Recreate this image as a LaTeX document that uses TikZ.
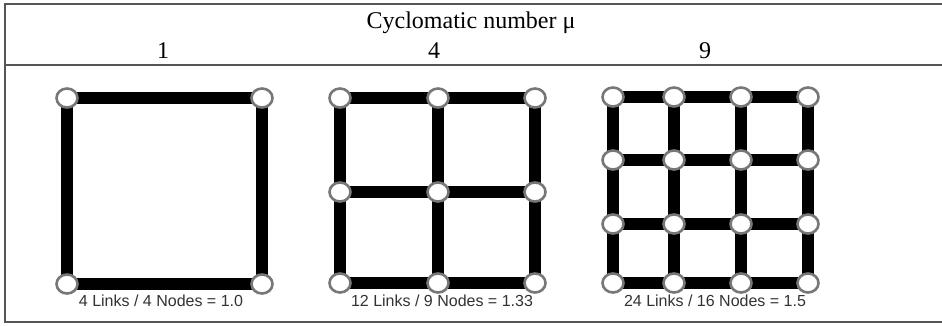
\documentclass[tikz,border=0pt]{standalone}
\usepackage{fontspec}
\setmainfont{Liberation Serif}
\newfontfamily\labelfont{Liberation Sans}
\usetikzlibrary{backgrounds,shapes.geometric}
\definecolor{rulegray}{HTML}{555555}
\definecolor{ringgray}{HTML}{777777}
\definecolor{labgray}{HTML}{333333}
\tikzset{
  vtx/.style={ellipse, draw=ringgray, line width=2.6pt, fill=white, minimum width=21pt, minimum height=19pt, inner sep=0pt},
  link/.style={line width=11.5pt, black},
  tabrule/.style={rulegray, line width=1.4pt},
  headtext/.style={font=\fontsize{24}{28}\selectfont, text=black, inner sep=0pt},
  linklabel/.style={font=\labelfont\fontsize{16}{18}\selectfont, text=labgray, inner sep=0pt}
}
\begin{document}
\begin{tikzpicture}[x=1pt,y=-1pt]
\useasboundingbox (0,0) rectangle (942,325);
% table frame
\draw[tabrule] (4,4) -- (942,4);
\draw[tabrule] (5,4) -- (5,322);
\draw[tabrule] (4,65) -- (942,65);
\draw[tabrule] (4,322) -- (942,322);
% headings
\node[headtext] (title) at (471,23) {Cyclomatic number μ};
\node[headtext] (m1) at (163,51) {1};
\node[headtext] (m4) at (434,51) {4};
\node[headtext] (m9) at (705,51) {9};
% grid 1
\foreach \i/\x in {1/67,2/262}
  \foreach \j/\y in {1/98,2/284}
    \node[vtx] (a\i\j) at (\x,\y) {};
\begin{scope}[on background layer]
\fill[white] (0,0) rectangle (942,325);
\draw[link] (a11.center) -- (a21.center) -- (a22.center) -- (a12.center) -- cycle;
\end{scope}
\node[linklabel] (c1) at (161,301) {4 Links / 4 Nodes = 1.0};
% grid 2
\foreach \i/\x in {1/340,2/438,3/535}
  \foreach \j/\y in {1/98,2/192,3/283}
    \node[vtx] (b\i\j) at (\x,\y) {};
\begin{scope}[on background layer]
\foreach \i in {1,2,3}{
  \draw[link] (b\i1.center) -- (b\i3.center);
  \draw[link] (b1\i.center) -- (b3\i.center);
}
\end{scope}
\node[linklabel] (c2) at (442,301) {12 Links / 9 Nodes = 1.33};
% grid 3
\foreach \i/\x in {1/613,2/674,3/741,4/808}
  \foreach \j/\y in {1/97,2/160,3/224,4/283}
    \node[vtx] (d\i\j) at (\x,\y) {};
\begin{scope}[on background layer]
\foreach \i in {1,2,3,4}{
  \draw[link] (d\i1.center) -- (d\i4.center);
  \draw[link] (d1\i.center) -- (d4\i.center);
}
\end{scope}
\node[linklabel] (c3) at (715,301) {24 Links / 16 Nodes = 1.5};
\end{tikzpicture}
\end{document}
